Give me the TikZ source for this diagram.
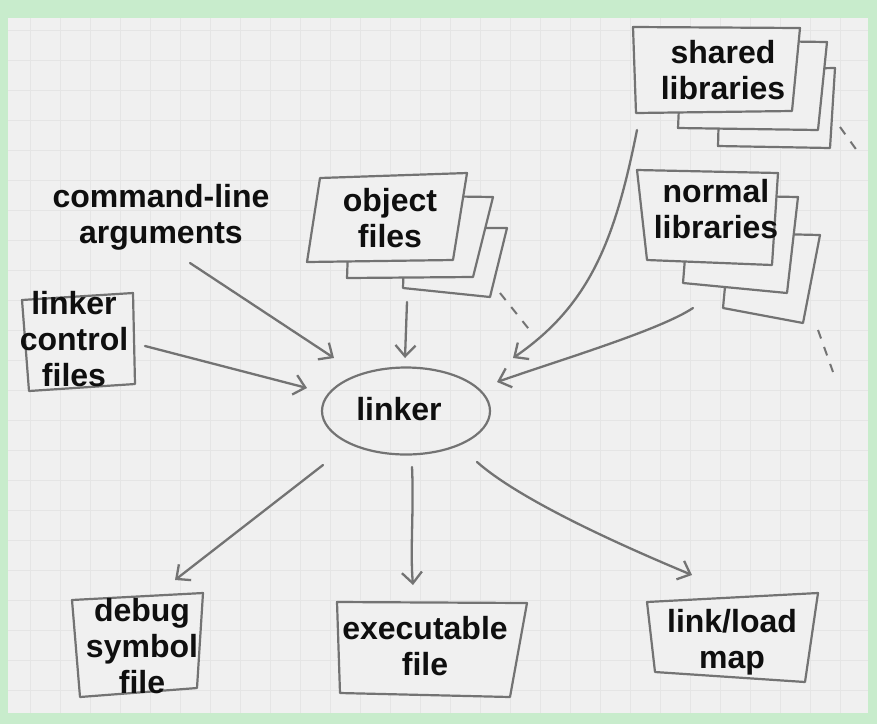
\documentclass[tikz,border=0pt]{standalone}
\usepackage{fontspec}
\setmainfont{Liberation Sans}
\usetikzlibrary{arrows.meta,shapes.geometric}
\definecolor{frame}{RGB}{200,236,204}
\definecolor{paper}{RGB}{240,240,240}
\definecolor{gridc}{RGB}{229,229,229}
\definecolor{pencil}{RGB}{115,115,115}
\definecolor{ink}{RGB}{15,15,15}
\begin{document}
\begin{tikzpicture}[x=1pt,y=-1pt,
  lbl/.style={font=\fontsize{32}{36}\selectfont\bfseries, text=ink, align=center, inner sep=0pt},
  sheet/.style={draw=pencil, line width=2.2pt, fill=paper, line join=round},
  arr/.style={draw=pencil, line width=2.3pt, line cap=round, -{Straight Barb[length=11pt,width=20pt,line width=2.3pt]}},
  dsh/.style={draw=pencil, line width=2pt, dash pattern=on 9pt off 9pt}]
% frame and paper
\fill[frame] (0,0) rectangle (877,724);
\useasboundingbox (0,0) rectangle (877,724);
\fill[paper] (8,18) rectangle (868,713);
\draw[gridc, line width=0.6pt] (8,18) grid[xstep=30pt,ystep=30pt] (868,713);

% shared libraries stack
\draw[sheet] (720,70) -- (835,68) -- (830,148) -- (718,146) -- cycle;
\draw[sheet] (682,40) -- (827,42) -- (818,130) -- (678,128) -- cycle;
\draw[sheet] (633,27) -- (800,28) -- (792,111) -- (636,113) -- cycle;
% normal libraries stack
\draw[sheet] (730,233) -- (820,235) -- (803,323) -- (723,308) -- cycle;
\draw[sheet] (690,195) -- (798,197) -- (787,293) -- (683,283) -- cycle;
\draw[sheet] (637,170) -- (778,173) -- (772,265) -- (647,260) -- cycle;
% object files stack
\draw[sheet] (405,228) -- (507,228) -- (490,297) -- (403,288) -- cycle;
\draw[sheet] (350,195) -- (493,197) -- (473,277) -- (347,278) -- cycle;
\draw[sheet] (320,178) -- (467,173) -- (453,260) -- (307,262) -- cycle;
% single sheets
\draw[sheet] (22,300) -- (133,293) -- (135,384) -- (29,391) -- cycle;
\draw[sheet] (72,600) -- (203,593) -- (197,688) -- (80,697) -- cycle;
\draw[sheet] (337,602) -- (527,603) -- (510,697) -- (340,693) -- cycle;
\draw[sheet] (647,602) -- (818,593) -- (805,682) -- (655,672) -- cycle;

% dashed hints of further sheets
\draw[dsh] (500,293) -- (532,333);
\draw[dsh] (840,127) -- (858,152);
\draw[dsh] (818,330) -- (833,372);

% nodes
\node[ellipse, draw=pencil, line width=2.2pt, minimum width=168pt, minimum height=87pt, inner sep=0pt] (linker) at (406,411) {};
\node[lbl] (linkertext) at (399,409) {linker};
\node[lbl] (cmd) at (161,217) {command-line\\arguments};
\node[lbl] (obj) at (390,218) {object\\files};
\node[lbl] (shared) at (723,70) {shared\\libraries};
\node[lbl] (normal) at (716,209) {normal\\libraries};
\node[lbl] (lcf) at (74,339) {linker\\control\\files};
\node[lbl] (debug) at (142,646) {debug\\symbol\\file};
\node[lbl] (exe) at (425,646) {executable\\file};
\node[lbl] (map) at (732,642) {link/load\\map};

% connector end points
\coordinate (cmdS) at (190,263);   \coordinate (cmdT) at (334,358);
\coordinate (lcfS) at (145,346);   \coordinate (lcfT) at (307,388);
\coordinate (objS) at (407,302);   \coordinate (objT) at (405,358);
\coordinate (shS) at (637,130);    \coordinate (shT) at (513,358);
\coordinate (noS) at (693,308);    \coordinate (noT) at (497,382);
\coordinate (dbS) at (323,465);    \coordinate (dbT) at (175,580);
\coordinate (exS) at (412,467);    \coordinate (exT) at (413,585);
\coordinate (mpS) at (477,462);    \coordinate (mpT) at (692,575);

% connectors
\draw[arr] (cmdS) -- (cmdT);
\draw[arr] (lcfS) -- (lcfT);
\draw[arr] (objS) -- (objT);
\draw[arr] (shS) .. controls (615,240) and (590,305) .. (shT);
\draw[arr] (noS) .. controls (660,330) and (560,360) .. (noT);
\draw[arr] (dbS) -- (dbT);
\draw[arr] (exS) .. controls (414,510) and (410,550) .. (exT);
\draw[arr] (mpS) .. controls (520,500) and (620,545) .. (mpT);
\end{tikzpicture}
\end{document}
